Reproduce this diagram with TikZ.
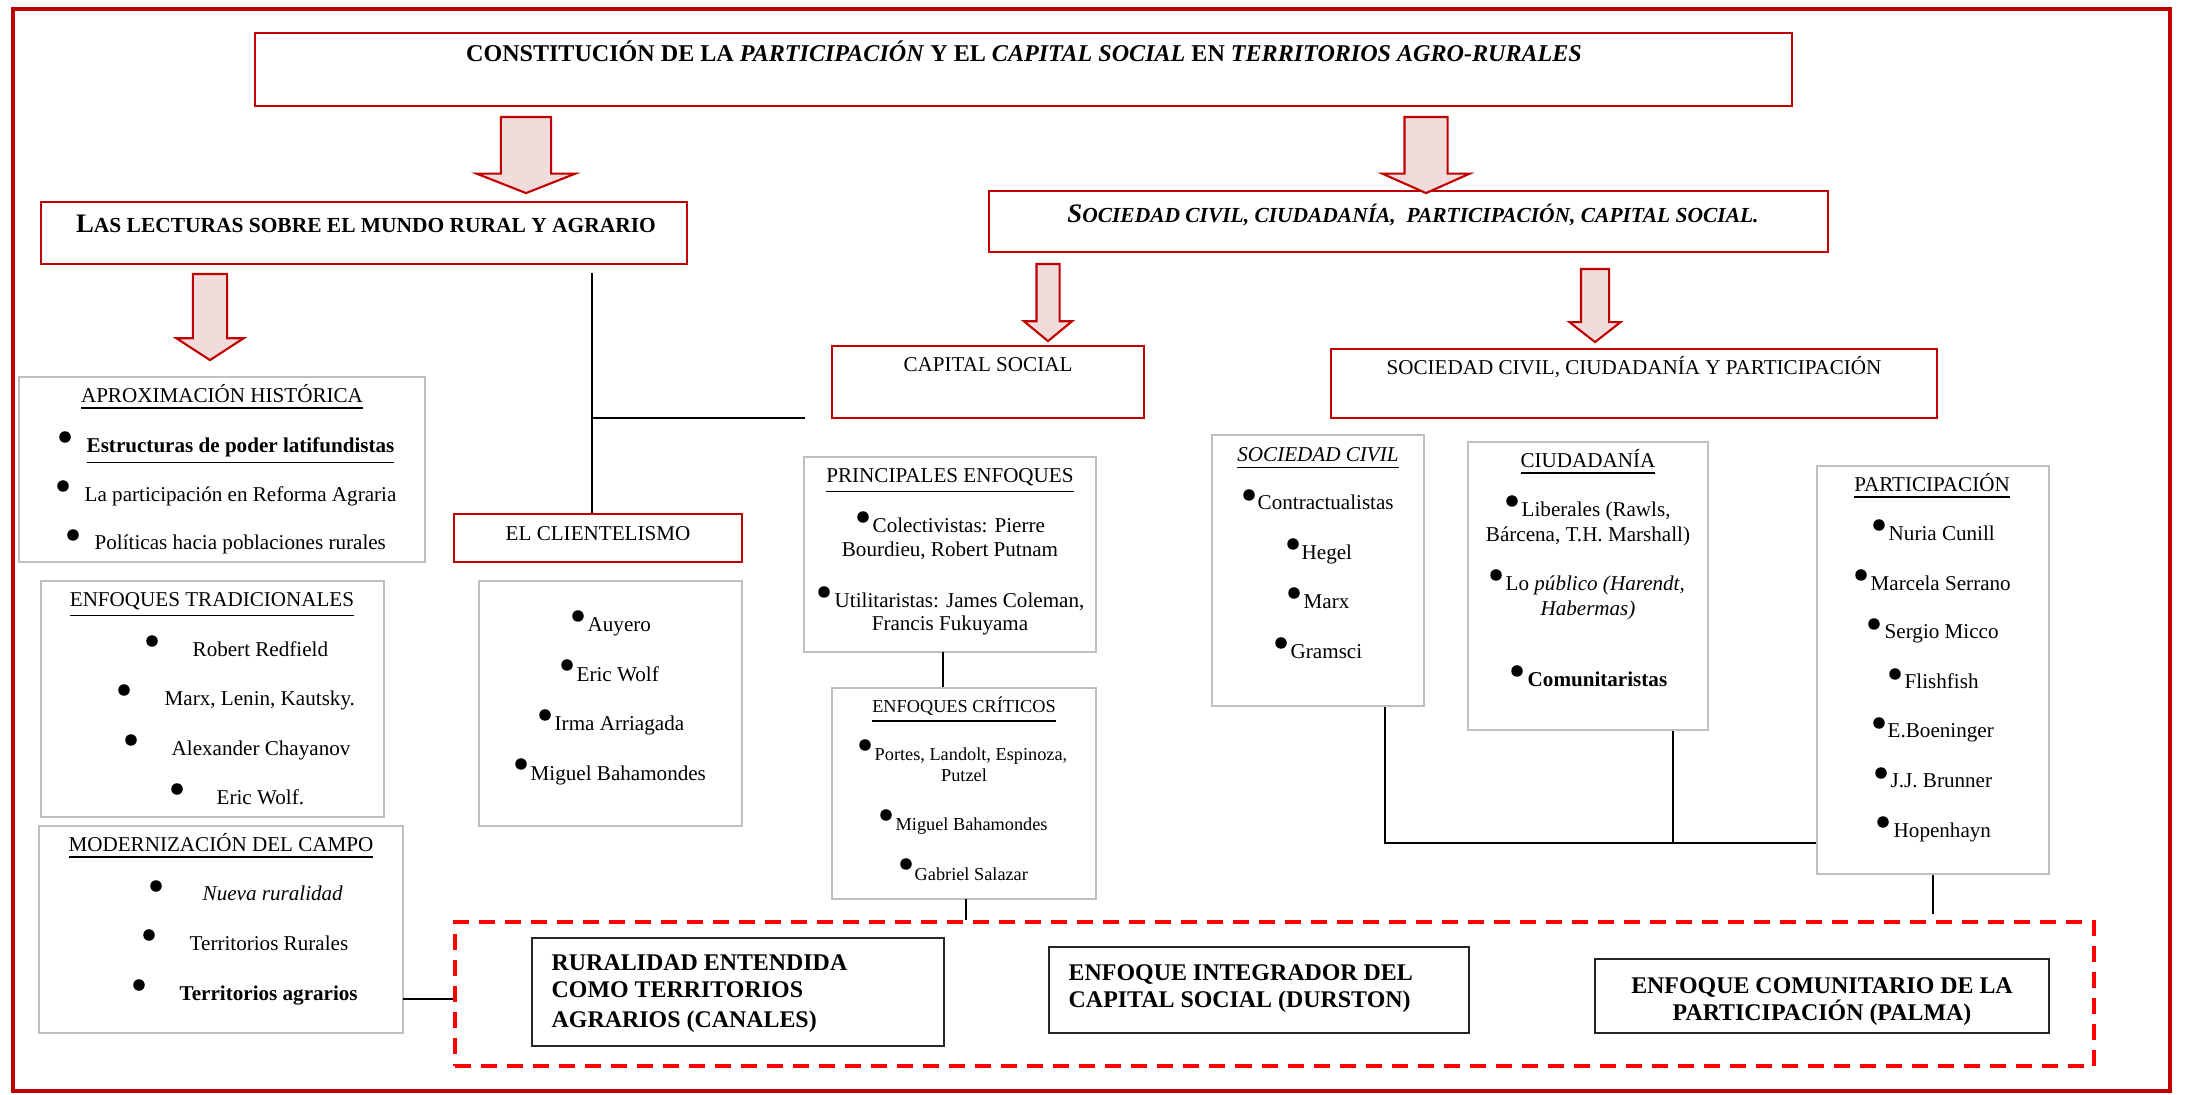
\documentclass[tikz,border=0pt]{standalone}
\usepackage{fontspec}
\setmainfont{Liberation Serif}
\usetikzlibrary{positioning, shapes.arrows, fit, calc}
\definecolor{rojo}{HTML}{C00000}
\definecolor{rojovivo}{HTML}{FF0000}
\definecolor{rosa}{HTML}{F2DCDB}
\definecolor{gris}{HTML}{BFBFBF}
\newcommand{\fnorm}{\fontsize{6}{7.2}\selectfont}
\newcommand{\fchico}{\fontsize{5.2}{6.2}\selectfont}
\newcommand{\ftit}{\fontsize{6.85}{8}\selectfont}
\newcommand{\fcaja}{\fontsize{6.8}{8.1}\selectfont}
\newcommand{\fsc}{\fontsize{6.1}{7}\selectfont}
\newcommand{\fini}{\fontsize{7.6}{8}\selectfont}
\tikzstyle{borde} = [draw=rojo, line width=1.4pt, inner sep=0pt]
\tikzstyle{rcaja} = [draw=rojo, line width=0.7pt, inner sep=0pt]
\tikzstyle{gcaja} = [draw=gris, line width=0.6pt, inner sep=0pt]
\tikzstyle{ncaja} = [draw=black!85, line width=0.6pt, inner sep=0pt]
\tikzstyle{discont} = [draw=rojovivo, line width=0.9pt, dash pattern=on 0.16cm off 0.1cm, inner sep=0pt]
\tikzstyle{punto} = [circle, fill=black, inner sep=0pt, minimum size=0.115cm]
\tikzstyle{txt} = [inner sep=0pt, anchor=base west]
\tikzstyle{ctxt} = [inner sep=0pt, anchor=base]
\tikzstyle{linea} = [draw=black, line width=0.6pt]
\tikzstyle{flecha} = [single arrow, draw=rojo, fill=rosa, line width=0.6pt, rotate=-90, anchor=tail, inner xsep=0pt]

\begin{document}
\begin{tikzpicture}[x=0.01cm, y=-0.01cm, font=\fnorm]
    \useasboundingbox (0,0) rectangle (2185,1095);
    \node[borde, fit={(13,9) (2170,1091)}] (borde) {};

    % titulo y ramas principales
    \node[rcaja, fit={(255,33) (1792,106)}] (titulo) {};
    \node[ctxt, font=\ftit\bfseries] (tituloT) at (1024,62) {CONSTITUCIÓN DE LA \textit{PARTICIPACIÓN} Y EL \textit{CAPITAL SOCIAL} EN \textit{TERRITORIOS AGRO-RURALES}};

    \node[rcaja, fit={(41,202) (687,264)}] (lecturas) {};
    \node[ctxt, font=\fsc\bfseries] (lecturasT) at (366,233) {{\fini L}AS LECTURAS SOBRE EL MUNDO RURAL Y AGRARIO};

    \node[rcaja, fit={(989,191) (1828,252)}] (sociedad) {};
    \node[ctxt, font=\fsc\bfseries\itshape] (sociedadT) at (1413,223) {{\fini S}OCIEDAD CIVIL, CIUDADANÍA,\ \ PARTICIPACIÓN, CAPITAL SOCIAL.};

    % flechas
    \node[flecha, inner ysep=0.24cm, single arrow head extend=0.245cm, single arrow tip angle=137, minimum height=0.76cm] (f1) at (526,116) {};
    \node[flecha, inner ysep=0.205cm, single arrow head extend=0.22cm, single arrow tip angle=132, minimum height=0.76cm] (f2) at (1426,116) {};
    \node[flecha, inner ysep=0.16cm, single arrow head extend=0.165cm, single arrow tip angle=114, minimum height=0.86cm] (f3) at (210,273) {};
    \node[flecha, inner ysep=0.105cm, single arrow head extend=0.125cm, single arrow tip angle=101, minimum height=0.77cm] (f4) at (1048,263) {};
    \node[flecha, inner ysep=0.13cm, single arrow head extend=0.115cm, single arrow tip angle=104, minimum height=0.73cm] (f5) at (1595,268) {};

    % lecturas sobre el mundo rural
    \node[gcaja, fit={(19,377) (425,562)}] (aprox) {};
    \node[ctxt] (aproxT) at (222,403) {\underline{APROXIMACIÓN HISTÓRICA}};
    \node[punto] (p11) at (65,437) {};
    \node[txt] (t11) at (86,453) {\textbf{\underline{Estructuras de poder latifundistas}}};
    \node[punto] (p12) at (63,486) {};
    \node[txt] (t12) at (84,502) {La participación en Reforma Agraria};
    \node[punto] (p13) at (73,535) {};
    \node[txt] (t13) at (94,550) {Políticas hacia poblaciones rurales};

    \node[gcaja, fit={(41,581) (384,817)}] (tradic) {};
    \node[ctxt] (tradicT) at (212,607) {\underline{ENFOQUES TRADICIONALES}};
    \node[punto] (p21) at (152,641) {};
    \node[txt] (t21) at (192,657) {Robert Redfield};
    \node[punto] (p22) at (124,690) {};
    \node[txt] (t22) at (164,706) {Marx, Lenin, Kautsky.};
    \node[punto] (p23) at (131,740) {};
    \node[txt] (t23) at (171,756) {Alexander Chayanov};
    \node[punto] (p24) at (177,789) {};
    \node[txt] (t24) at (216,805) {Eric Wolf.};

    \node[gcaja, fit={(39,826) (403,1033)}] (moder) {};
    \node[ctxt] (moderT) at (221,852) {\underline{MODERNIZACIÓN DEL CAMPO}};
    \node[punto] (p31) at (156,886) {};
    \node[txt] (t31) at (202,900) {\textit{Nueva ruralidad}};
    \node[punto] (p32) at (149,935) {};
    \node[txt] (t32) at (189,950) {Territorios Rurales};
    \node[punto] (p33) at (139,985) {};
    \node[txt] (t33) at (179,1000) {\textbf{Territorios agrarios}};

    \node[rcaja, fit={(454,514) (742,562)}] (clien) {};
    \node[ctxt] (clienT) at (598,541) {EL CLIENTELISMO};
    \node[gcaja, fit={(479,581) (742,826)}] (clienL) {};
    \node[punto] (p41) at (578,616) {};
    \node[txt] (t41) at (587,632) {Auyero};
    \node[punto] (p42) at (567,665) {};
    \node[txt] (t42) at (576,682) {Eric Wolf};
    \node[punto] (p43) at (545,715) {};
    \node[txt] (t43) at (554,731) {Irma Arriagada};
    \node[punto] (p44) at (521,764) {};
    \node[txt] (t44) at (530,781) {Miguel Bahamondes};

    % capital social
    \node[rcaja, fit={(832,346) (1144,418)}] (capital) {};
    \node[ctxt] (capitalT) at (988,372) {CAPITAL SOCIAL};

    \node[gcaja, fit={(804,457) (1096,652)}] (princ) {};
    \node[ctxt] (princT) at (950,483) {\underline{PRINCIPALES ENFOQUES}};
    \node[punto] (p51) at (863,517) {};
    \node[txt] (t51) at (872,533) {Colectivistas: Pierre};
    \node[ctxt] (t51b) at (950,557) {Bourdieu, Robert Putnam};
    \node[punto] (p52) at (824,592) {};
    \node[txt] (t52) at (834,608) {Utilitaristas: James Coleman,};
    \node[ctxt] (t52b) at (950,631) {Francis Fukuyama};

    \node[gcaja, fit={(832,688) (1096,899)}] (critic) {};
    \node[ctxt, font=\fchico] (criticT) at (964,713) {\underline{ENFOQUES CRÍTICOS}};
    \node[punto] (p61) at (865,745) {};
    \node[txt, font=\fchico] (t61) at (874,761) {Portes, Landolt, Espinoza,};
    \node[ctxt, font=\fchico] (t61b) at (964,782) {Putzel};
    \node[punto] (p62) at (886,815) {};
    \node[txt, font=\fchico] (t62) at (895,831) {Miguel Bahamondes};
    \node[punto] (p63) at (906,864) {};
    \node[txt, font=\fchico] (t63) at (914,880) {Gabriel Salazar};

    % sociedad civil, ciudadania y participacion
    \node[rcaja, fit={(1331,349) (1937,418)}] (scp) {};
    \node[ctxt] (scpT) at (1634,375) {SOCIEDAD CIVIL, CIUDADANÍA Y PARTICIPACIÓN};

    \node[gcaja, fit={(1212,435) (1424,706)}] (civil) {};
    \node[ctxt] (civilT) at (1318,462) {\textit{\underline{SOCIEDAD CIVIL}}};
    \node[punto] (p71) at (1249,495) {};
    \node[txt] (t71) at (1257,510) {Contractualistas};
    \node[punto] (p72) at (1293,544) {};
    \node[txt] (t72) at (1301,560) {Hegel};
    \node[punto] (p73) at (1294,593) {};
    \node[txt] (t73) at (1303,609) {Marx};
    \node[punto] (p74) at (1281,643) {};
    \node[txt] (t74) at (1290,659) {Gramsci};

    \node[gcaja, fit={(1468,442) (1708,730)}] (ciudad) {};
    \node[ctxt] (ciudadT) at (1588,468) {\underline{CIUDADANÍA}};
    \node[punto] (p81) at (1512,501) {};
    \node[txt] (t81) at (1521,517) {Liberales (Rawls,};
    \node[ctxt] (t81b) at (1588,542) {Bárcena, T.H. Marshall)};
    \node[punto] (p82) at (1496,575) {};
    \node[txt] (t82) at (1505,591) {Lo \textit{público (Harendt,}};
    \node[ctxt] (t82b) at (1588,616) {\textit{Habermas)}};
    \node[punto] (p83) at (1517,671) {};
    \node[txt] (t83) at (1527,687) {\textbf{Comunitaristas}};

    \node[gcaja, fit={(1817,466) (2049,874)}] (partic) {};
    \node[ctxt] (particT) at (1932,492) {\underline{PARTICIPACIÓN}};
    \node[punto] (p91) at (1879,525) {};
    \node[txt] (t91) at (1888,541) {Nuria Cunill};
    \node[punto] (p92) at (1861,575) {};
    \node[txt] (t92) at (1870,591) {Marcela Serrano};
    \node[punto] (p93) at (1874,624) {};
    \node[txt] (t93) at (1884,639) {Sergio Micco};
    \node[punto] (p94) at (1895,674) {};
    \node[txt] (t94) at (1904,689) {Flishfish};
    \node[punto] (p95) at (1879,723) {};
    \node[txt] (t95) at (1887,738) {E.Boeninger};
    \node[punto] (p96) at (1881,773) {};
    \node[txt] (t96) at (1890,788) {J.J. Brunner};
    \node[punto] (p97) at (1883,822) {};
    \node[txt] (t97) at (1893,838) {Hopenhayn};

    % recuadro inferior
    \node[discont, fit={(455,922) (2094,1066)}] (enfoques) {};
    \node[ncaja, fit={(532,938) (944,1046)}] (rural) {};
    \node[txt, font=\fcaja\bfseries] (rural1) at (551,970) {RURALIDAD ENTENDIDA};
    \node[txt, font=\fcaja\bfseries] (rural2) at (551,998) {COMO TERRITORIOS};
    \node[txt, font=\fcaja\bfseries] (rural3) at (551,1027) {AGRARIOS (CANALES)};
    \node[ncaja, fit={(1049,947) (1469,1033)}] (durston) {};
    \node[txt, font=\fcaja\bfseries] (durston1) at (1068,980) {ENFOQUE INTEGRADOR DEL};
    \node[txt, font=\fcaja\bfseries] (durston2) at (1068,1007) {CAPITAL SOCIAL (DURSTON)};
    \node[ncaja, fit={(1595,959) (2049,1033)}] (palma) {};
    \node[ctxt, font=\fcaja\bfseries] (palma1) at (1822,993) {ENFOQUE COMUNITARIO DE LA};
    \node[ctxt, font=\fcaja\bfseries] (palma2) at (1822,1020) {PARTICIPACIÓN (PALMA)};

    % conectores
    \coordinate (c1) at (592,273);
    \coordinate (c2) at (805,418);
    \coordinate (c3) at (1700,843);
    \coordinate (c4) at (403,999);
    \coordinate (c5) at (943,652);
    \coordinate (c6) at (966,899);
    \coordinate (s1) at ($(civil.south east)+(-40,0)$);
    \coordinate (s2) at ($(ciudad.south east)+(-36,0)$);
    \draw[linea] (c1) -- (c1 |- clien.north);
    \draw[linea] (c1 |- c2) -- (c2);
    \draw[linea] (c5) -- (c5 |- critic.north);
    \draw[linea] (c6) -- (c6 |- enfoques.north);
    \draw[linea] (s1) |- (c3 -| partic.west);
    \draw[linea] (s2) -- (s2 |- c3);
    \draw[linea] (partic.south) -- ++(0,39);
    \draw[linea] (c4) -- (c4 -| enfoques.west);

\end{tikzpicture}
\end{document}
